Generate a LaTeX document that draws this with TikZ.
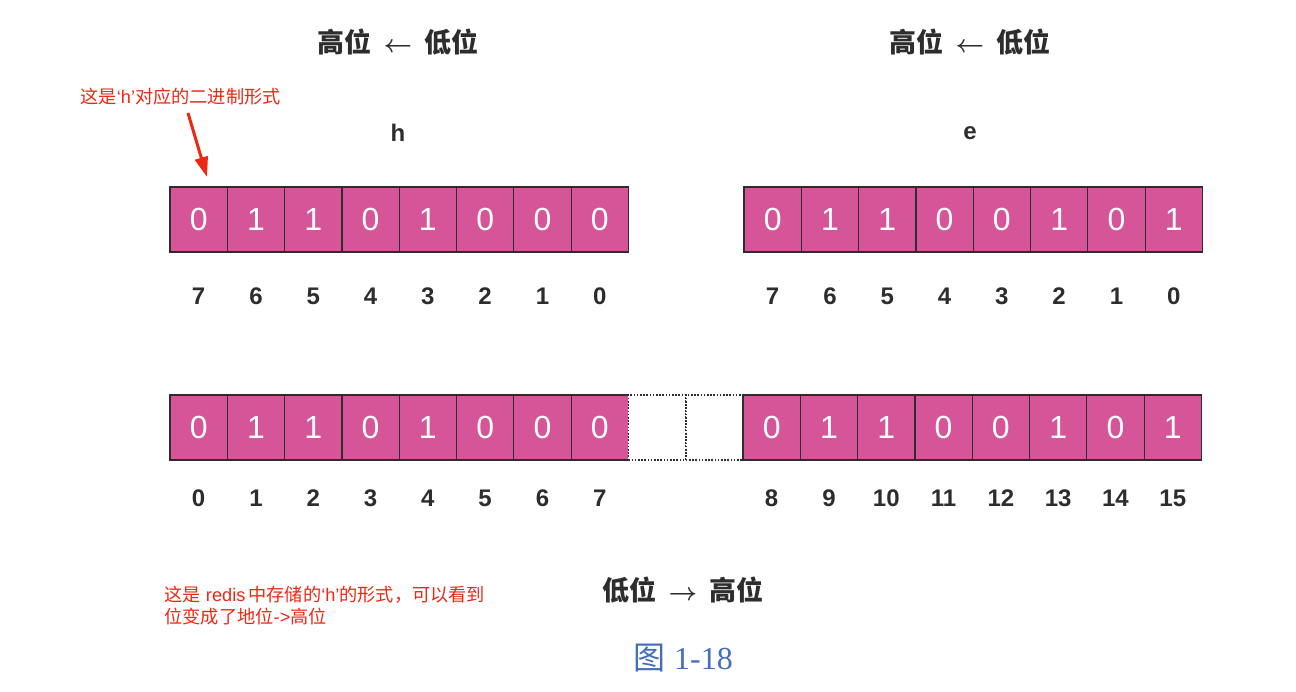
\documentclass[tikz,border=0pt]{standalone}
\usepackage{fontspec}
\setmainfont{Liberation Sans}
\newfontfamily\cjk{Noto Sans CJK SC}
\newfontfamily\lat{Liberation Sans}
\newfontfamily\capserif{Liberation Serif}
\usetikzlibrary{arrows.meta}
\definecolor{cellpink}{RGB}{214,84,152}
\definecolor{txtgray}{RGB}{45,45,45}
\definecolor{annred}{RGB}{235,40,20}
\definecolor{capblue}{RGB}{70,110,185}
\tikzset{
  cell/.style={draw=txtgray, line width=1.2pt, fill=cellpink, minimum width=57.3pt, minimum height=65pt, inner sep=0pt, text=white, font=\fontsize{32}{32}\selectfont},
  emptycell/.style={draw=txtgray, dash pattern=on 1.6pt off 1.6pt, line width=1.8pt, fill=white, minimum width=57.3pt, minimum height=65pt, inner sep=0pt},
  idx/.style={text=txtgray, font=\fontsize{24}{24}\selectfont\bfseries},
  head/.style={text=txtgray, font=\fontsize{27}{27}\selectfont\cjk\bfseries},
  ann/.style={text=annred, font=\fontsize{18.2}{22}\selectfont\cjk, align=left},
  annarrow/.style={annred, line width=3pt, -{Triangle[length=20pt,width=13pt]}},
}
\newcommand{\harrl}{\hspace{12pt}{\boldmath$\leftarrow$}\hspace{12pt}}
\newcommand{\harrr}{\hspace{12pt}{\boldmath$\rightarrow$}\hspace{12pt}}
\begin{document}
\begin{tikzpicture}[x=1pt,y=-1pt]
\useasboundingbox (0,0) rectangle (1296,692);
% top headings
\node[head] (hl) at (398,42) {高位\harrl 低位};
\node[head] (hr) at (970,42) {高位\harrl 低位};
\node[idx] (ch) at (398,133) {h};
\node[idx] (ce) at (970,133) {e};
% top-left byte h
\foreach \b [count=\i from 0] in {0,1,1,0,1,0,0,0} {
  \node[cell] (a\i) at ({170+57.3*(\i+0.5)},219.5) {\b};
}
\foreach \l [count=\i from 0] in {7,6,5,4,3,2,1,0} {
  \node[idx] (al\i) at ({170+57.3*(\i+0.5)},296) {\l};
}
% top-right byte e
\foreach \b [count=\i from 0] in {0,1,1,0,0,1,0,1} {
  \node[cell] (b\i) at ({744+57.3*(\i+0.5)},219.5) {\b};
}
\foreach \l [count=\i from 0] in {7,6,5,4,3,2,1,0} {
  \node[idx] (bl\i) at ({744+57.3*(\i+0.5)},296) {\l};
}
% bottom row
\foreach \b [count=\i from 0] in {0,1,1,0,1,0,0,0} {
  \node[cell] (c\i) at ({170+57.3*(\i+0.5)},427.5) {\b};
}
\node[emptycell] (g0) at ({170+57.3*8.5},427.5) {};
\node[emptycell] (g1) at ({170+57.3*9.5},427.5) {};
\foreach \b [count=\i from 0] in {0,1,1,0,0,1,0,1} {
  \node[cell] (d\i) at ({170+57.3*(\i+10.5)},427.5) {\b};
}
\foreach \l [count=\i from 0] in {0,1,2,3,4,5,6,7} {
  \node[idx] (cl\i) at ({170+57.3*(\i+0.5)},498) {\l};
}
\foreach \l [count=\i from 0] in {8,9,10,11,12,13,14,15} {
  \node[idx] (dl\i) at ({170+57.3*(\i+10.5)},498) {\l};
}
\node[head] (hb) at (683,590) {低位\harrr 高位};
\node[text=capblue, font=\fontsize{32}{32}\selectfont] (cap) at (683,658) {{\cjk 图} {\capserif 1-18}};
% annotations
\node[ann, anchor=west] (t1) at (77,97) {这是{\lat ‘h’}对应的二进制形式};
\coordinate (arrs) at (188,113);
\coordinate (arre) at (207,177);
\draw[annarrow] (arrs) -- (arre);
\node[ann, anchor=north west] (t2) at (161,583) {这是{\lat\ redis\,}中存储的{\lat ‘h’}的形式，可以看到\\位变成了地位{\lat ->}高位};
\end{tikzpicture}
\end{document}
